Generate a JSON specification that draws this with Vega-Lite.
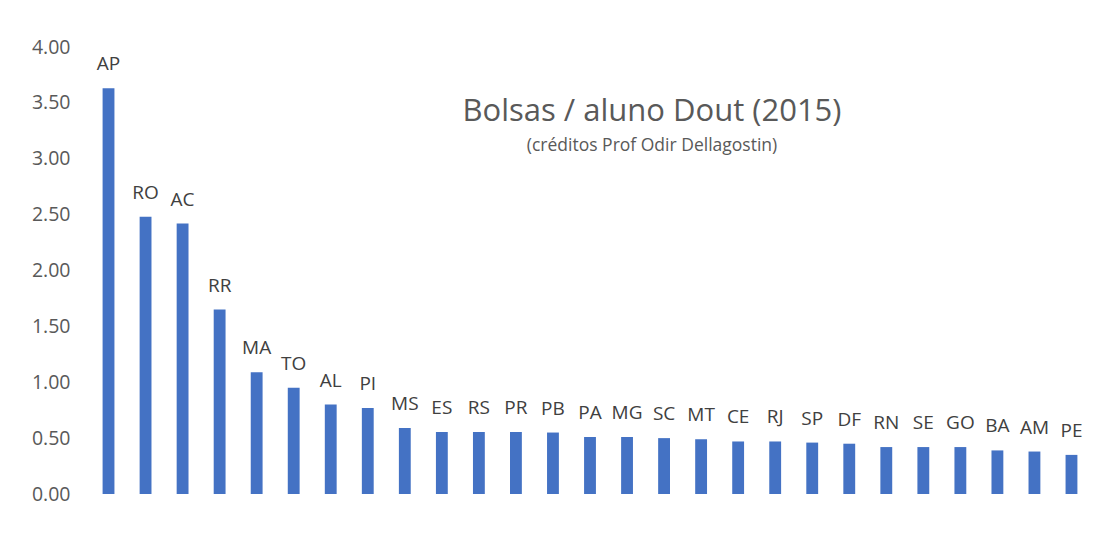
{
  "$schema": "https://vega.github.io/schema/vega-lite/v6.json",
  "autosize": "none",
  "width": 1000,
  "height": 447,
  "padding": {"left": 90, "top": 47, "right": 23, "bottom": 55},
  "background": "white",
  "config": {"view": {"stroke": null}, "font": "Open Sans"},
  "title": {
    "text": "Bolsas / aluno Dout (2015)",
    "subtitle": "(créditos Prof Odir Dellagostin)",
    "anchor": "middle",
    "frame": "group",
    "orient": "top",
    "dx": 62,
    "dy": 122,
    "fontSize": 31,
    "fontWeight": "normal",
    "color": "#595959",
    "subtitleFontSize": 17.5,
    "subtitleColor": "#595959",
    "subtitlePadding": 9,
    "font": "Open Sans",
    "subtitleFont": "Open Sans"
  },
  "data": {
    "values": [
      {"uf": "AP", "v": 3.63},
      {"uf": "RO", "v": 2.48},
      {"uf": "AC", "v": 2.42},
      {"uf": "RR", "v": 1.65},
      {"uf": "MA", "v": 1.09},
      {"uf": "TO", "v": 0.95},
      {"uf": "AL", "v": 0.80},
      {"uf": "PI", "v": 0.77},
      {"uf": "MS", "v": 0.59},
      {"uf": "ES", "v": 0.555},
      {"uf": "RS", "v": 0.555},
      {"uf": "PR", "v": 0.555},
      {"uf": "PB", "v": 0.55},
      {"uf": "PA", "v": 0.51},
      {"uf": "MG", "v": 0.51},
      {"uf": "SC", "v": 0.50},
      {"uf": "MT", "v": 0.49},
      {"uf": "CE", "v": 0.47},
      {"uf": "RJ", "v": 0.47},
      {"uf": "SP", "v": 0.46},
      {"uf": "DF", "v": 0.45},
      {"uf": "RN", "v": 0.42},
      {"uf": "SE", "v": 0.42},
      {"uf": "GO", "v": 0.42},
      {"uf": "BA", "v": 0.39},
      {"uf": "AM", "v": 0.38},
      {"uf": "PE", "v": 0.35}
    ]
  },
  "encoding": {
    "x": {
      "field": "uf",
      "type": "nominal",
      "sort": null,
      "scale": {"paddingInner": 0.68, "paddingOuter": 0.34},
      "axis": null
    },
    "y": {
      "field": "v",
      "type": "quantitative",
      "scale": {"domain": [0, 4], "nice": false},
      "axis": {
        "values": [0, 0.5, 1, 1.5, 2, 2.5, 3, 3.5, 4],
        "format": ".2f",
        "grid": false,
        "domain": false,
        "ticks": false,
        "labelPadding": 20,
        "labelFontSize": 19.5,
        "labelColor": "#595959",
        "labelFont": "Open Sans",
        "title": null
      }
    }
  },
  "layer": [
    {"mark": {"type": "bar", "color": "#4472C4"}},
    {
      "mark": {"type": "text", "baseline": "bottom", "dy": -14, "fontSize": 19, "color": "#404040", "font": "Open Sans"},
      "encoding": {"text": {"field": "uf"}}
    }
  ]
}
